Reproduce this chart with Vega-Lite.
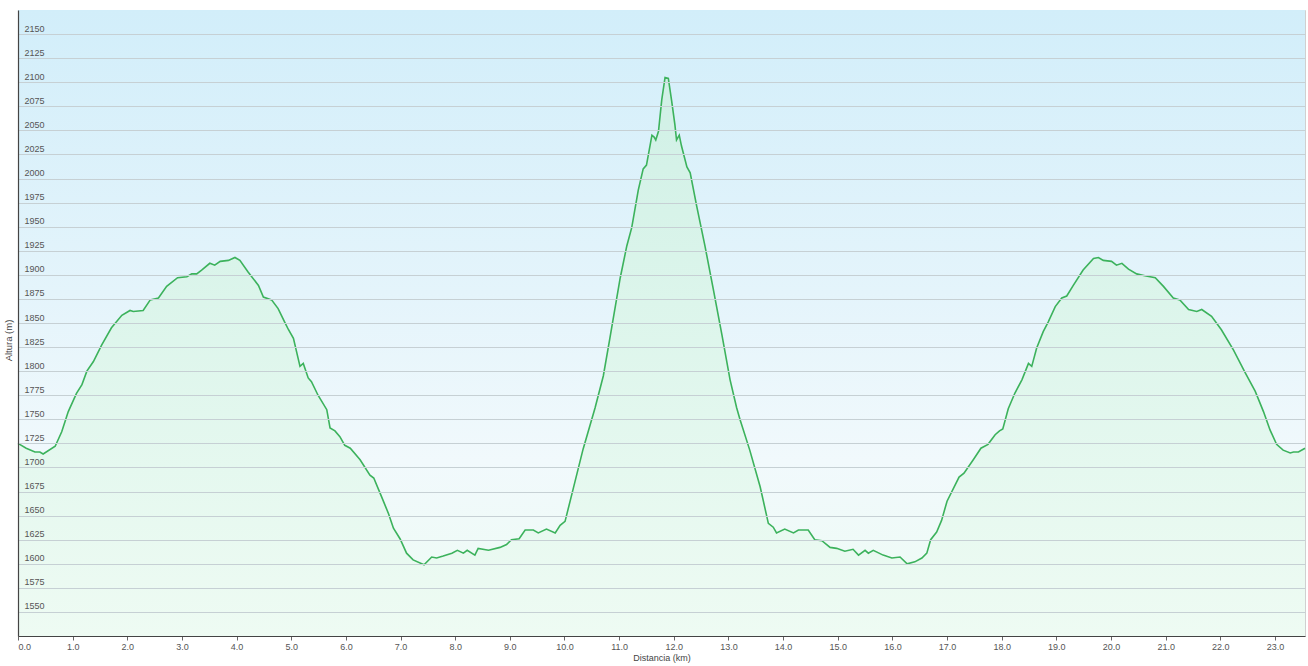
{
  "$schema": "https://vega.github.io/schema/vega-lite/v6.json",
  "autosize": "none",
  "width": 1287,
  "height": 626,
  "padding": {"left": 18, "top": 10, "right": 3, "bottom": 30},
  "background": "#ffffff",
  "config": {
    "font": "Liberation Sans",
    "view": {"stroke": "#d0d0d0", "strokeWidth": 1},
    "axis": {"labelColor": "#555555", "titleColor": "#444444", "labelFontSize": 9, "titleFontSize": 9, "titleFontWeight": "normal"}
  },
  "datasets": {
    "profile": [
      {"km": 0.00, "alt": 1725}, {"km": 0.15, "alt": 1720}, {"km": 0.31, "alt": 1716}, {"km": 0.40, "alt": 1716},
      {"km": 0.46, "alt": 1714}, {"km": 0.68, "alt": 1722}, {"km": 0.80, "alt": 1737}, {"km": 0.92, "alt": 1758},
      {"km": 1.07, "alt": 1777}, {"km": 1.17, "alt": 1786}, {"km": 1.26, "alt": 1800}, {"km": 1.38, "alt": 1810},
      {"km": 1.53, "alt": 1827}, {"km": 1.71, "alt": 1845}, {"km": 1.90, "alt": 1858}, {"km": 2.05, "alt": 1863},
      {"km": 2.11, "alt": 1862}, {"km": 2.29, "alt": 1863}, {"km": 2.42, "alt": 1874}, {"km": 2.57, "alt": 1876},
      {"km": 2.72, "alt": 1888}, {"km": 2.92, "alt": 1897}, {"km": 3.09, "alt": 1898}, {"km": 3.18, "alt": 1901},
      {"km": 3.27, "alt": 1901}, {"km": 3.36, "alt": 1905}, {"km": 3.51, "alt": 1912}, {"km": 3.60, "alt": 1910},
      {"km": 3.70, "alt": 1914}, {"km": 3.85, "alt": 1915}, {"km": 3.97, "alt": 1918}, {"km": 4.06, "alt": 1915},
      {"km": 4.21, "alt": 1903}, {"km": 4.40, "alt": 1889}, {"km": 4.49, "alt": 1877}, {"km": 4.64, "alt": 1874},
      {"km": 4.76, "alt": 1865}, {"km": 4.88, "alt": 1851}, {"km": 4.95, "alt": 1843}, {"km": 5.04, "alt": 1834},
      {"km": 5.16, "alt": 1805}, {"km": 5.22, "alt": 1808}, {"km": 5.31, "alt": 1793}, {"km": 5.37, "alt": 1789},
      {"km": 5.49, "alt": 1775}, {"km": 5.65, "alt": 1760}, {"km": 5.71, "alt": 1741}, {"km": 5.80, "alt": 1738},
      {"km": 5.89, "alt": 1732}, {"km": 5.98, "alt": 1723}, {"km": 6.08, "alt": 1720}, {"km": 6.26, "alt": 1708},
      {"km": 6.44, "alt": 1692}, {"km": 6.51, "alt": 1689}, {"km": 6.65, "alt": 1670}, {"km": 6.78, "alt": 1652},
      {"km": 6.87, "alt": 1637}, {"km": 6.99, "alt": 1626}, {"km": 7.11, "alt": 1611}, {"km": 7.23, "alt": 1604},
      {"km": 7.43, "alt": 1599}, {"km": 7.57, "alt": 1607}, {"km": 7.66, "alt": 1606}, {"km": 7.78, "alt": 1608},
      {"km": 7.94, "alt": 1611}, {"km": 8.04, "alt": 1614}, {"km": 8.15, "alt": 1611}, {"km": 8.22, "alt": 1614},
      {"km": 8.36, "alt": 1609}, {"km": 8.42, "alt": 1616}, {"km": 8.61, "alt": 1614}, {"km": 8.82, "alt": 1617},
      {"km": 8.94, "alt": 1620}, {"km": 9.03, "alt": 1625}, {"km": 9.17, "alt": 1626}, {"km": 9.28, "alt": 1635},
      {"km": 9.43, "alt": 1635}, {"km": 9.52, "alt": 1632}, {"km": 9.67, "alt": 1636}, {"km": 9.83, "alt": 1632},
      {"km": 9.92, "alt": 1640}, {"km": 10.01, "alt": 1644}, {"km": 10.16, "alt": 1678}, {"km": 10.34, "alt": 1719},
      {"km": 10.56, "alt": 1762}, {"km": 10.71, "alt": 1795}, {"km": 10.83, "alt": 1834}, {"km": 11.02, "alt": 1897},
      {"km": 11.14, "alt": 1930}, {"km": 11.23, "alt": 1949}, {"km": 11.35, "alt": 1988}, {"km": 11.44, "alt": 2010},
      {"km": 11.50, "alt": 2014}, {"km": 11.60, "alt": 2045}, {"km": 11.64, "alt": 2043}, {"km": 11.67, "alt": 2040},
      {"km": 11.72, "alt": 2049}, {"km": 11.78, "alt": 2082}, {"km": 11.84, "alt": 2105}, {"km": 11.90, "alt": 2104},
      {"km": 11.96, "alt": 2081}, {"km": 12.02, "alt": 2056}, {"km": 12.05, "alt": 2040}, {"km": 12.10, "alt": 2045},
      {"km": 12.14, "alt": 2034}, {"km": 12.24, "alt": 2012}, {"km": 12.30, "alt": 2006}, {"km": 12.42, "alt": 1971},
      {"km": 12.57, "alt": 1930}, {"km": 12.72, "alt": 1886}, {"km": 12.88, "alt": 1838}, {"km": 13.03, "alt": 1791},
      {"km": 13.15, "alt": 1762}, {"km": 13.21, "alt": 1750}, {"km": 13.39, "alt": 1718}, {"km": 13.58, "alt": 1680},
      {"km": 13.73, "alt": 1642}, {"km": 13.82, "alt": 1638}, {"km": 13.88, "alt": 1632}, {"km": 14.03, "alt": 1636},
      {"km": 14.19, "alt": 1632}, {"km": 14.28, "alt": 1635}, {"km": 14.46, "alt": 1635}, {"km": 14.58, "alt": 1625},
      {"km": 14.71, "alt": 1624}, {"km": 14.86, "alt": 1617}, {"km": 14.98, "alt": 1616}, {"km": 15.13, "alt": 1613},
      {"km": 15.28, "alt": 1615}, {"km": 15.38, "alt": 1609}, {"km": 15.50, "alt": 1614}, {"km": 15.56, "alt": 1611},
      {"km": 15.65, "alt": 1614}, {"km": 15.83, "alt": 1609}, {"km": 15.99, "alt": 1606}, {"km": 16.14, "alt": 1607},
      {"km": 16.27, "alt": 1600}, {"km": 16.41, "alt": 1602}, {"km": 16.54, "alt": 1606}, {"km": 16.63, "alt": 1611},
      {"km": 16.70, "alt": 1625}, {"km": 16.81, "alt": 1633}, {"km": 16.90, "alt": 1645}, {"km": 17.00, "alt": 1665},
      {"km": 17.22, "alt": 1690}, {"km": 17.31, "alt": 1694}, {"km": 17.48, "alt": 1708}, {"km": 17.62, "alt": 1720},
      {"km": 17.75, "alt": 1724}, {"km": 17.88, "alt": 1734}, {"km": 17.96, "alt": 1738}, {"km": 18.02, "alt": 1740},
      {"km": 18.12, "alt": 1761}, {"km": 18.24, "alt": 1777}, {"km": 18.37, "alt": 1791}, {"km": 18.49, "alt": 1808},
      {"km": 18.55, "alt": 1805}, {"km": 18.64, "alt": 1824}, {"km": 18.76, "alt": 1841}, {"km": 18.85, "alt": 1851},
      {"km": 18.98, "alt": 1867}, {"km": 19.10, "alt": 1876}, {"km": 19.19, "alt": 1878}, {"km": 19.31, "alt": 1889},
      {"km": 19.49, "alt": 1905}, {"km": 19.68, "alt": 1917}, {"km": 19.77, "alt": 1918}, {"km": 19.86, "alt": 1915},
      {"km": 20.01, "alt": 1914}, {"km": 20.10, "alt": 1910}, {"km": 20.20, "alt": 1912}, {"km": 20.32, "alt": 1906},
      {"km": 20.47, "alt": 1901}, {"km": 20.62, "alt": 1899}, {"km": 20.81, "alt": 1897}, {"km": 20.96, "alt": 1888},
      {"km": 21.14, "alt": 1876}, {"km": 21.26, "alt": 1874}, {"km": 21.42, "alt": 1864}, {"km": 21.57, "alt": 1862},
      {"km": 21.66, "alt": 1864}, {"km": 21.84, "alt": 1857}, {"km": 22.02, "alt": 1843}, {"km": 22.24, "alt": 1822},
      {"km": 22.45, "alt": 1799}, {"km": 22.64, "alt": 1779}, {"km": 22.79, "alt": 1758}, {"km": 22.91, "alt": 1739},
      {"km": 23.03, "alt": 1724}, {"km": 23.15, "alt": 1718}, {"km": 23.28, "alt": 1715}, {"km": 23.34, "alt": 1716},
      {"km": 23.43, "alt": 1716}, {"km": 23.55, "alt": 1720}
    ],
    "frame": [{"x0": 0, "x1": 23.55, "y0": 1525, "y1": 2175}]
  },
  "layer": [
    {
      "data": {"name": "frame"},
      "mark": {
        "type": "rect",
        "color": {
          "gradient": "linear", "x1": 0, "y1": 0, "x2": 0, "y2": 1,
          "stops": [
            {"offset": 0, "color": "#d2eefa"},
            {"offset": 0.45, "color": "#e4f4fb"},
            {"offset": 0.72, "color": "#f1f9fc"},
            {"offset": 1, "color": "#edfcf3"}
          ]
        }
      },
      "encoding": {
        "x": {"field": "x0", "type": "quantitative", "scale": {"domain": [0, 23.55], "nice": false, "zero": false}},
        "x2": {"field": "x1"},
        "y": {"field": "y0", "type": "quantitative", "scale": {"domain": [1525, 2175], "nice": false, "zero": false}},
        "y2": {"field": "y1"}
      }
    },
    {
      "data": {"name": "profile"},
      "mark": {
        "type": "area",
        "interpolate": "linear",
        "color": {
          "gradient": "linear", "x1": 0, "y1": 0, "x2": 0, "y2": 1,
          "stops": [
            {"offset": 0, "color": "#d0f0e6"},
            {"offset": 0.4, "color": "#dcf5eb"},
            {"offset": 1, "color": "#eefbf3"}
          ]
        }
      },
      "encoding": {
        "x": {"field": "km", "type": "quantitative"},
        "y": {"field": "alt", "type": "quantitative"},
        "y2": {"datum": 1525}
      }
    },
    {
      "data": {"name": "profile"},
      "mark": {"type": "line", "color": "#3cb25c", "strokeWidth": 1.6, "interpolate": "linear"},
      "encoding": {
        "x": {
          "field": "km", "type": "quantitative",
          "axis": {
            "values": [0,1,2,3,4,5,6,7,8,9,10,11,12,13,14,15,16,17,18,19,20,21,22,23],
            "tickCount": 40,
            "format": ".1f", "labelFlush": true, "labelOverlap": false, "grid": false,
            "tickSize": 4, "tickColor": "#666666", "domainColor": "#444444", "domainWidth": 1.2,
            "labelPadding": 2, "title": "Distancia (km)", "titlePadding": 2
          }
        },
        "y": {
          "field": "alt", "type": "quantitative",
          "axis": {
            "values": [1550,1575,1600,1625,1650,1675,1700,1725,1750,1775,1800,1825,1850,1875,1900,1925,1950,1975,2000,2025,2050,2075,2100,2125,2150],
            "tickCount": 40,
            "format": "d", "labelOverlap": false,
            "grid": true, "gridColor": "#c6d0d4", "gridWidth": 1,
            "ticks": false, "tickSize": 0,
            "labelAlign": "left", "labelBaseline": "bottom", "labelPadding": -6, "labelOffset": -1,
            "domainColor": "#444444", "domainWidth": 1.2,
            "zindex": 1,
            "title": "Altura (m)", "titleAngle": 270, "titleX": -10, "titleY": 330, "titleBaseline": "middle", "titleFontSize": 9.5
          }
        }
      }
    }
  ]
}
